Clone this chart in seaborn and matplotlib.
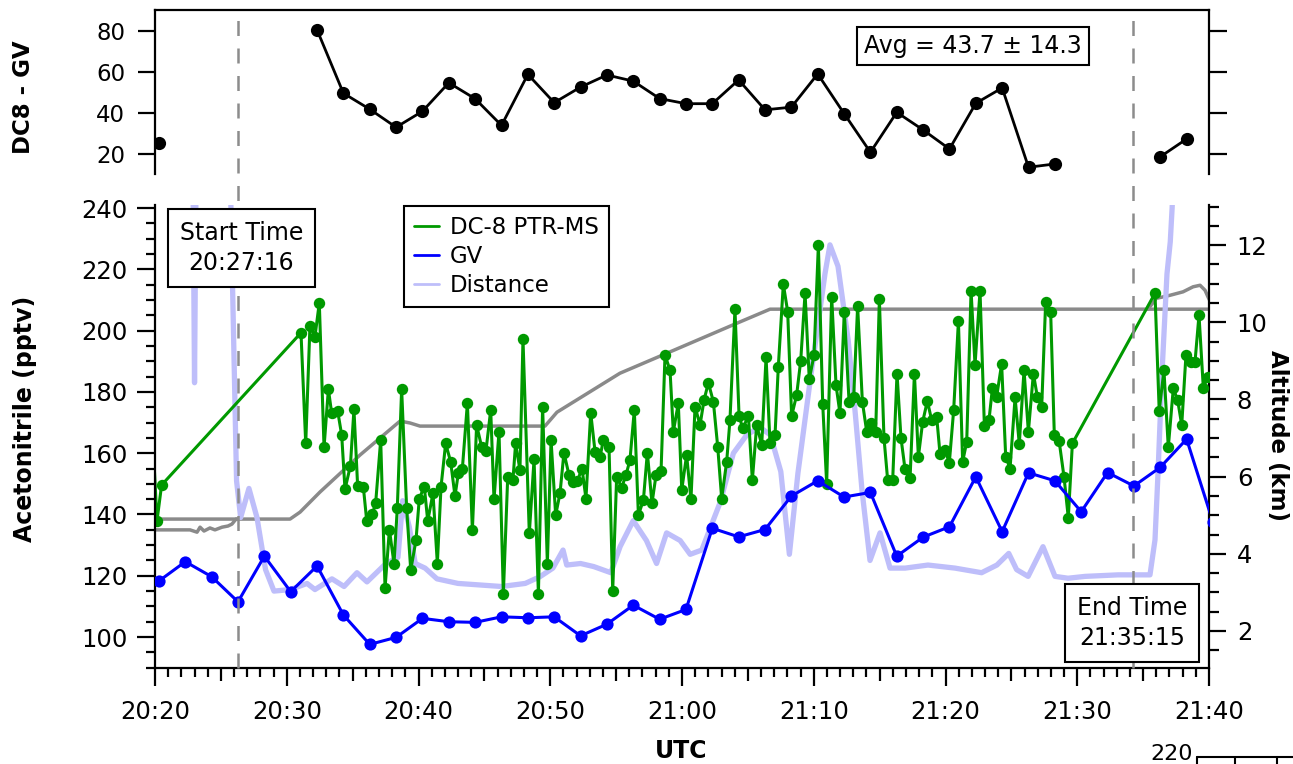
import numpy as np
import pandas as pd
import seaborn as sns
import matplotlib.pyplot as plt
from matplotlib.lines import Line2D
from matplotlib.ticker import MultipleLocator, FuncFormatter

sns.set_style("ticks")
plt.rcParams['font.family'] = ['DejaVu Sans']
plt.rcParams['text.color'] = 'black'
plt.rcParams['axes.labelcolor'] = 'black'
plt.rcParams['xtick.color'] = 'black'
plt.rcParams['ytick.color'] = 'black'

# %% --------------------------------------------------------------------
# Data (time = minutes after 20:20 UTC)

# DC8 - GV difference, top panel (nan = no data)
diff_t = [0.3, 2.3, 4.3, 6.3, 8.3, 10.3, 12.3, 14.3, 16.3, 18.3,
          20.3, 22.3, 24.3, 26.3, 28.3, 30.3, 32.3, 34.3, 36.3, 38.3,
          40.3, 42.3, 44.3, 46.3, 48.3, 50.3, 52.3, 54.3, 56.3, 58.3,
          60.3, 62.3, 64.3, 66.3, 68.3, 70.3, 72.3, 74.3, 76.3, 78.3]
diff_v = [25.4, np.nan, np.nan, np.nan, np.nan, np.nan, 80.5, 49.6, 41.8, 33.0,
          40.8, 54.7, 46.9, 33.9, 58.8, 45.0, 52.6, 58.5, 55.5, 47.0,
          44.5, 44.5, 56.1, 41.5, 42.8, 59.0, 39.7, 20.8, 40.3, 31.7,
          22.4, 44.7, 52.2, 13.5, 15.1, np.nan, np.nan, np.nan, 18.6, 27.3]

# GV acetonitrile (pptv)
gv_t = [0.3, 2.3, 4.3, 6.3, 8.3, 10.3, 12.3, 14.3, 16.3, 18.3,
        20.3, 22.3, 24.3, 26.3, 28.3, 30.3, 32.3, 34.3, 36.3, 38.3,
        40.3, 42.3, 44.3, 46.3, 48.3, 50.3, 52.3, 54.3, 56.3, 58.3,
        60.3, 62.3, 64.3, 66.3, 68.3, 70.3, 72.3, 74.3, 76.3, 78.3, 80.3]
gv_v = [118.3, 124.6, 119.7, 111.5, 126.4, 114.8, 123.2, 107.2, 97.6, 99.9,
        106.1, 105.0, 104.8, 106.6, 106.3, 106.6, 100.4, 104.2, 110.4, 105.8,
        109.0, 135.5, 132.7, 135.1, 146.0, 151.0, 145.7, 147.2, 126.4, 132.6,
        136.0, 152.3, 134.4, 153.6, 151.0, 140.9, 153.7, 149.3, 155.4, 164.6, 137.5]

# DC-8 PTR-MS acetonitrile (pptv)
dc8_t = [-0.5, 0.15, 0.5,
         11.08, 11.44, 11.76, 12.14, 12.47, 12.83, 13.16, 13.41, 13.86, 14.17,
         14.42, 14.83, 15.10, 15.38, 15.81, 16.07, 16.50, 16.75, 17.13, 17.46,
         17.79, 18.14, 18.39, 18.72, 19.10, 19.41, 19.81, 20.06, 20.44, 20.70,
         21.10, 21.43, 21.71, 22.06, 22.44, 22.77, 23.02, 23.33, 23.71, 24.09,
         24.41, 24.79, 25.12, 25.48, 25.73, 26.11, 26.44, 26.77, 27.17, 27.37,
         27.70, 27.93, 28.41, 28.77, 29.10, 29.42, 29.78, 30.06, 30.41, 30.74,
         31.04, 31.42, 31.75, 32.06, 32.41, 32.71, 33.07, 33.40, 33.78, 34.03,
         34.46, 34.74, 35.04, 35.42, 35.75, 36.05, 36.38, 36.69, 37.07, 37.37,
         37.72, 38.03, 38.41, 38.71, 39.09, 39.34, 39.72, 39.98, 40.35, 40.68,
         40.99, 41.37, 41.67, 42.00, 42.38, 42.71, 43.01, 43.39, 43.64, 44.02,
         44.33, 44.61, 45.04, 45.34, 45.67, 46.05, 46.38, 46.68, 47.06, 47.31,
         47.69, 48.02, 48.32, 48.70, 49.01, 49.34, 49.66, 50.02, 50.35, 50.68,
         50.98, 51.36, 51.69, 51.99, 52.32, 52.68, 53.03, 53.33, 53.69, 54.02,
         54.35, 54.70, 54.98, 55.33, 55.61, 55.99, 56.32, 56.62, 56.93, 57.31,
         57.64, 57.94, 58.27, 58.62, 58.95, 59.33, 59.58, 59.96, 60.29, 60.62,
         60.98, 61.30, 61.61, 61.94, 62.24, 62.62, 62.95, 63.30, 63.56, 63.88,
         64.26, 64.57, 64.90, 65.28, 65.60, 65.96, 66.29, 66.67, 66.97, 67.30,
         67.60, 67.98, 68.26, 68.62, 69.00, 69.32, 69.63, 75.90, 76.22, 76.58,
         76.91, 77.29, 77.62, 77.93, 78.25, 78.61, 78.94, 79.24, 79.57, 79.90]
dc8_v = [193.0, 137.9, 149.6,
         199.3, 163.2, 201.5, 198.0, 209.1, 161.9, 180.9, 173.0, 173.9, 165.9,
         148.2, 155.9, 174.3, 149.3, 149.1, 137.9, 140.0, 143.9, 164.3, 115.9,
         135.1, 124.0, 142.0, 180.9, 142.0, 121.9, 131.6, 145.2, 149.1, 137.9,
         146.9, 124.0, 149.1, 163.2, 157.2, 146.0, 153.4, 155.0, 176.3, 134.9,
         169.2, 162.1, 160.8, 174.1, 144.9, 167.0, 114.0, 152.1, 151.4, 163.2,
         154.5, 197.2, 133.8, 158.0, 114.0, 175.2, 124.0, 164.3, 139.8, 146.9,
         160.2, 152.9, 150.7, 151.0, 155.0, 145.2, 173.2, 160.5, 158.8, 164.3,
         162.1, 115.1, 152.3, 148.8, 152.9, 157.8, 174.1, 139.8, 144.7, 160.2,
         143.6, 152.9, 154.3, 192.0, 187.1, 167.0, 176.3, 148.0, 159.4, 144.9,
         175.2, 169.2, 177.3, 183.0, 176.8, 162.1, 145.2, 157.2, 170.8, 207.0,
         172.2, 168.1, 172.2, 151.2, 169.2, 162.7, 191.3, 163.2, 165.9, 188.2,
         215.2, 206.2, 172.1, 179.0, 190.2, 212.2, 184.1, 192.0, 227.9, 176.0,
         150.1, 211.1, 182.2, 173.0, 206.2, 176.8, 178.4, 208.0, 176.8, 167.0,
         169.9, 167.0, 210.2, 165.0, 151.2, 151.2, 186.0, 165.0, 154.7, 151.8,
         186.0, 158.8, 170.3, 177.0, 170.8, 171.9, 159.9, 161.0, 156.9, 174.1,
         203.1, 157.2, 163.7, 213.0, 188.8, 213.0, 168.9, 170.8, 181.2, 178.4,
         189.1, 158.8, 155.0, 178.2, 163.0, 187.1, 167.0, 186.0, 178.4, 175.0,
         209.2, 206.2, 165.9, 164.1, 152.1, 138.9, 163.2, 212.2, 173.9, 187.1,
         161.9, 181.2, 177.3, 169.2, 192.0, 189.9, 189.9, 205.1, 181.2, 185.0]

# Distance between aircraft (drawn on the pptv scale, off-scale above 241)
dist_t = [0.0, 2.85, 3.0, 3.15, 5.62, 6.19, 6.50, 7.13, 7.74, 8.39,
          9.03, 10.28, 11.54, 12.14, 13.43, 14.35, 15.33, 16.09, 17.53, 18.44,
          18.80, 19.30, 19.75, 20.50, 21.40, 23.00, 26.30, 28.10, 29.22, 30.20,
          30.97, 31.25, 32.30, 33.30, 34.60, 35.30, 36.30, 37.30, 38.07, 38.83,
          39.86, 40.62, 41.50, 42.90, 43.90, 44.92, 45.90, 46.70, 47.50, 48.15,
          48.80, 49.80, 50.85, 51.23, 51.84, 52.61, 53.15, 53.66, 54.27, 55.03,
          55.79, 56.93, 58.67, 60.72, 62.74, 63.90, 64.80, 65.40, 66.27, 67.40,
          68.31, 69.30, 70.60, 73.10, 75.52, 75.90, 76.13, 76.43, 76.81, 77.06,
          77.20, 77.50, 80.0]
dist_v = [270, 270, 183, 270, 270, 151, 139, 148.5, 139, 122,
          115, 115.5, 117.5, 115.5, 119, 116.5, 121, 118, 124, 126,
          144.5, 136, 124, 122.5, 119, 117.5, 116.5, 117.5, 119.7, 122.5,
          128.4, 123.5, 124, 123, 121, 129.5, 138, 131.5, 124, 134,
          131.5, 127, 128.4, 144, 160, 166, 168.5, 166, 154, 127,
          153.5, 186, 218.5, 228, 221, 197, 173, 148, 125, 134,
          122.5, 122.5, 123.5, 122.5, 121, 123.5, 127.3, 122, 119.8, 129.5,
          119.8, 119.2, 119.8, 120.3, 120.3, 131.7, 153.5, 186, 218.5, 229,
          240, 270, 270]

# Altitudes (km)
alt_a_t = [0.0, 10.25, 11.01, 12.52, 15.56, 18.60, 19.36, 20.11, 29.60, 30.51,
           35.29, 38.86, 44.40, 46.68, 48.96, 80.0]
alt_a_km = [4.90, 4.90, 5.08, 5.60, 6.56, 7.44, 7.39, 7.31, 7.31, 7.67,
            8.68, 9.20, 10.01, 10.34, 10.34, 10.34]
alt_b_t = [0.0, 2.66, 3.19, 3.42, 3.72, 4.17, 4.55, 5.09, 5.54, 5.84, 6.15, 6.30,
           np.nan,
           75.37, 76.00, 77.04, 78.03, 78.79, 79.32, 79.70, 79.92, 80.15]
alt_b_km = [4.62, 4.62, 4.56, 4.69, 4.59, 4.67, 4.62, 4.69, 4.72, 4.77, 4.90, 4.90,
            np.nan,
            10.34, 10.62, 10.70, 10.79, 10.92, 10.96, 10.83, 10.66, 10.50]

start_line = 6.27
end_line = 74.23

GREEN = '#009900'
BLUE = '#0000ff'
LAV = '#bebefa'
GREY = '#8a8a8a'


def with_segments(t, v):
    df = pd.DataFrame({'t': t, 'v': v})
    df['seg'] = df['v'].isna().cumsum()
    return df.dropna()


def hhmm(m, pos):
    tot = 20 * 60 + 20 + int(round(m))
    return f"{tot // 60}:{tot % 60:02d}"


# %% --------------------------------------------------------------------
# Figure

fig = plt.figure(figsize=(12.93, 7.64), dpi=100)
ax_top = fig.add_axes([0.11988, 0.77225, 0.81516, 0.21466])
ax = fig.add_axes([0.11988, 0.12565, 0.81516, 0.60602])
ax2 = ax.twinx()
ax_top.set_zorder(1)
ax2.set_zorder(2)
ax.set_zorder(3)
ax.patch.set_visible(False)

# top panel
sns.lineplot(data=with_segments(diff_t, diff_v), x='t', y='v', units='seg',
             estimator=None, sort=False, color='black', lw=2.0, marker='o',
             markersize=9.5, markeredgewidth=0, legend=False, ax=ax_top)

# altitude
sns.lineplot(x=alt_a_t, y=alt_a_km, estimator=None, sort=False, color=GREY,
             lw=2.5, ax=ax2)
sns.lineplot(data=with_segments(alt_b_t, alt_b_km), x='t', y='v', units='seg',
             estimator=None, sort=False, color=GREY, lw=2.5, legend=False, ax=ax2)

# acetonitrile + distance
sns.lineplot(x=dist_t, y=dist_v, estimator=None, sort=False, color=LAV,
             lw=3.8, ax=ax, zorder=1)
sns.lineplot(x=dc8_t, y=dc8_v, estimator=None, sort=False, color=GREEN,
             lw=2.2, marker='o', markersize=8.2, markeredgewidth=0, ax=ax, zorder=2)
sns.lineplot(x=gv_t, y=gv_v, estimator=None, sort=False, color=BLUE,
             lw=2.2, marker='o', markersize=8.8, markeredgewidth=0, ax=ax, zorder=3)

for a in (ax, ax2, ax_top):
    a.set_xlabel('')
    a.set_ylabel('')
    a.set_xlim(0, 80)
    for s in a.spines.values():
        s.set_linewidth(1.6)
        s.set_color('black')

ax.set_ylim(89.9, 241.0)
ax2.set_ylim(1.04, 13.04)
ax_top.set_ylim(10.2, 90.2)

# bottom axes ticks
ax.spines['top'].set_visible(False)
ax.spines['right'].set_visible(False)
ax2.spines['top'].set_visible(False)
ax2.spines['left'].set_visible(False)
ax2.spines['bottom'].set_visible(False)

ax.xaxis.set_major_locator(MultipleLocator(10))
ax.xaxis.set_minor_locator(MultipleLocator(1))
ax.xaxis.set_major_formatter(FuncFormatter(hhmm))
ax.yaxis.set_major_locator(MultipleLocator(20))
ax.yaxis.set_minor_locator(MultipleLocator(5))
ax.tick_params(which='major', direction='out', length=12.7, width=1.6,
               labelsize=17.5, colors='black')
ax.tick_params(which='minor', direction='out', length=6.8, width=1.6,
               colors='black')
ax.tick_params(axis='x', which='major', pad=10.5)
ax.tick_params(axis='y', which='major', pad=7)
ax.tick_params(top=False, right=False)

ax2.yaxis.set_major_locator(MultipleLocator(2))
ax2.yaxis.set_minor_locator(MultipleLocator(0.5))
ax2.tick_params(axis='y', which='major', direction='out', length=12,
                width=1.6, labelsize=17.5, pad=8, colors='black')
ax2.tick_params(axis='y', which='minor', direction='out', length=7, width=1.6,
                colors='black')

# 5-minute ticks a bit longer
locs = ax.xaxis.get_minorticklocs()
for tick, loc in zip(ax.xaxis.get_minor_ticks(len(locs)), locs):
    if abs(loc / 5 - round(loc / 5)) < 1e-6:
        tick.tick1line.set_markersize(9.4)

# top panel ticks
ax_top.spines['bottom'].set_visible(False)
ax_top.yaxis.set_major_locator(MultipleLocator(20))
ax_top.tick_params(axis='y', which='major', direction='out', left=True,
                   right=True, labelright=False, length=12.6, width=1.6,
                   labelsize=16.5, pad=9, colors='black')
ax_top.tick_params(axis='x', which='both', bottom=False, top=False,
                   labelbottom=False)

# start / end lines
for tm in (start_line, end_line):
    ax.axvline(tm, ymin=0, ymax=658 / 463, clip_on=False, color='#8c8c8c',
               lw=1.8, ls=(0, (6, 5)), zorder=5)

# text boxes
ax_top.text(0.776, 0.780, 'Avg = 43.7 ± 14.3', transform=ax_top.transAxes,
            ha='center', va='center', fontsize=17, zorder=10,
            bbox=dict(boxstyle='square,pad=0.3', fc='white', ec='black', lw=1.5))
ax.text(0.0821, 0.907, 'Start Time\n20:27:16', transform=ax.transAxes,
        ha='center', va='center', multialignment='center', fontsize=17,
        linespacing=1.3, zorder=10,
        bbox=dict(boxstyle='square,pad=0.5', fc='white', ec='black', lw=1.5))
ax.text(0.9274, 0.0972, 'End Time\n21:35:15', transform=ax.transAxes,
        ha='center', va='center', multialignment='center', fontsize=17,
        linespacing=1.3, zorder=10,
        bbox=dict(boxstyle='square,pad=0.5', fc='white', ec='black', lw=1.5))

# legend
handles = [Line2D([], [], color=GREEN, lw=2.0),
           Line2D([], [], color=BLUE, lw=2.0),
           Line2D([], [], color=LAV, lw=2.0)]
leg = ax.legend(handles, ['DC-8 PTR-MS', 'GV', 'Distance'], loc='upper left',
                bbox_to_anchor=(0.2362, 0.9978), borderaxespad=0, fontsize=16.5,
                frameon=True, fancybox=False, framealpha=1, edgecolor='black',
                handlelength=1.1, handletextpad=0.45, borderpad=0.45,
                labelspacing=0.25)
leg.get_frame().set_linewidth(1.5)
leg.set_zorder(20)

# axis titles
fig.text(25 / 1293, 1 - 419 / 764, 'Acetonitrile (pptv)', rotation=90,
         ha='center', va='center', fontsize=17, fontweight='bold')
fig.text(24 / 1293, 1 - 97 / 764, 'DC8 - GV', rotation=90,
         ha='center', va='center', fontsize=16.5, fontweight='bold')
fig.text(1277 / 1293, 1 - 436 / 764, 'Altitude (km)', rotation=270,
         ha='center', va='center', fontsize=16.5, fontweight='bold')
fig.text(681 / 1293, 1 - 751 / 764, 'UTC', ha='center', va='center',
         fontsize=17, fontweight='bold')

# edge of the next figure peeking in at the bottom right
fig.text(1193 / 1293, 0.0, '220', ha='right', va='bottom', fontsize=16)
yl = 1 - 757 / 764
fig.add_artist(Line2D([1197 / 1293, 1.0], [yl, yl], color='black', lw=1.5))
for xp in (1197, 1235, 1277):
    fig.add_artist(Line2D([xp / 1293, xp / 1293], [yl, 0], color='black', lw=1.5))

fig.savefig('out.png', dpi=100)
